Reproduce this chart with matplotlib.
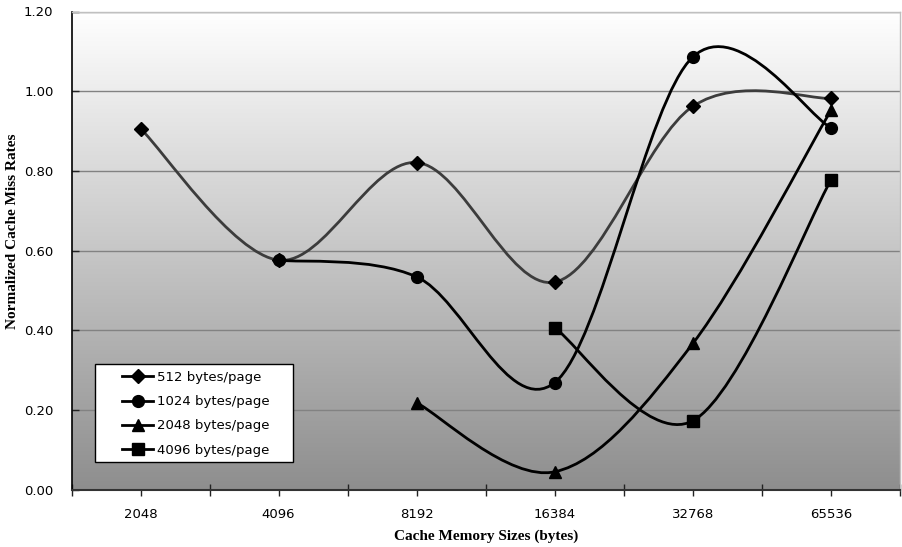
import numpy as np
import matplotlib
matplotlib.use("Agg")
import matplotlib.pyplot as plt
from matplotlib.path import Path
from matplotlib.patches import PathPatch, Rectangle
from matplotlib.lines import Line2D

# Cache sizes (bytes) and normalized miss rates per page size
cache_sizes = ["2048", "4096", "8192", "16384", "32768", "65536"]
rate_512 = [0.906, 0.576, 0.821, 0.521, 0.962, 0.982]
rate_1024 = [np.nan, 0.576, 0.534, 0.269, 1.086, 0.908]
rate_2048 = [np.nan, np.nan, 0.218, 0.045, 0.367, 0.952]
rate_4096 = [np.nan, np.nan, np.nan, 0.406, 0.173, 0.777]
series_labels = ["512 bytes/page", "1024 bytes/page", "2048 bytes/page", "4096 bytes/page"]
y_ticks = [0.0, 0.2, 0.4, 0.6, 0.8, 1.0, 1.2]

series = [rate_512, rate_1024, rate_2048, rate_4096]
markers = ["D", "o", "^", "s"]
msizes = [7, 8.5, 8.5, 8.5]
colors = ["#3c3c3c", "black", "black", "black"]

tick_font = ["DejaVu Sans"]
title_font = ["Liberation Serif"]

W, H = 902, 547


def smooth_path(xs, ys):
    """Cubic Bezier through the points with Catmull-Rom style tangents."""
    pts = np.column_stack([xs, ys])
    n = len(pts)
    verts = [pts[0]]
    codes = [Path.MOVETO]
    for i in range(n - 1):
        p0 = pts[i - 1] if i > 0 else pts[i]
        p1 = pts[i]
        p2 = pts[i + 1]
        p3 = pts[i + 2] if i + 2 < n else pts[i + 1]
        c1 = p1 + (p2 - p0) / 6.0
        c2 = p2 - (p3 - p1) / 6.0
        verts += [c1, c2, p2]
        codes += [Path.CURVE4] * 3
    return Path(verts, codes)


def fig_xy(px, py):
    return px / W, 1 - py / H


fig = plt.figure(figsize=(W / 100, H / 100), dpi=100)
ax_l, ax_r, ax_t, ax_b = 71.5, 900.0, 11.5, 489.7
ax = fig.add_axes([ax_l / W, 1 - ax_b / H, (ax_r - ax_l) / W, (ax_b - ax_t) / H])

x_all = np.arange(len(cache_sizes))
ax.set_xlim(-0.5, len(cache_sizes) - 0.5)
ax.set_ylim(0, 1.2)

# vertical gradient background: white at top to mid gray at bottom
grad = np.linspace(0, 1, 256).reshape(-1, 1)
cmap = matplotlib.colors.LinearSegmentedColormap.from_list("bg", ["#8e8e8e", "#ffffff"])
ax.imshow(grad, aspect="auto", cmap=cmap, origin="lower",
          extent=[-0.5, len(cache_sizes) - 0.5, 0, 1.2], zorder=0)

ax.set_yticks(y_ticks)
ax.set_yticklabels([f"{v:.2f}" for v in y_ticks], family=tick_font, fontsize=9.5)
ax.yaxis.grid(True, color="#828282", linewidth=1.0, zorder=1)
ax.set_axisbelow(True)

ax.set_xticks(x_all)
ax.set_xticklabels(cache_sizes, family=tick_font, fontsize=9.5)
ax.set_xticks(np.arange(-0.5, len(cache_sizes), 1.0), minor=True)
ax.tick_params(axis="x", which="major", direction="out", length=4, width=1, color="#222222", pad=9)
ax.tick_params(axis="x", which="minor", direction="inout", length=9, width=1, color="#222222")
ax.tick_params(axis="y", which="major", direction="in", length=5, width=1, color="#222222", pad=13)

for side in ["top", "right"]:
    ax.spines[side].set_color("#c0c0c0")
    ax.spines[side].set_linewidth(1.0)
ax.spines["left"].set_color("black")
ax.spines["left"].set_linewidth(1.2)
ax.spines["bottom"].set_color("#333333")
ax.spines["bottom"].set_linewidth(1.5)

handles = []
for vals, mk, ms, col, lab in zip(series, markers, msizes, colors, series_labels):
    vals = np.asarray(vals, dtype=float)
    ok = ~np.isnan(vals)
    xs, ys = x_all[ok].astype(float), vals[ok]
    patch = PathPatch(smooth_path(xs, ys), facecolor="none", edgecolor=col,
                      linewidth=2.0, zorder=3, capstyle="round", joinstyle="round")
    ax.add_patch(patch)
    ax.plot(xs, ys, linestyle="none", marker=mk, markersize=ms,
            color="black", zorder=4)
    handles.append(Line2D([], [], color="black", linewidth=2.0, marker=mk,
                          markersize=ms, label=lab))

# axis titles
ax.set_ylabel("Normalized Cache Miss Rates", family=title_font, fontweight="bold",
              fontsize=11, ha="center", va="center")
ax.yaxis.set_label_coords((13 - ax_l) / (ax_r - ax_l), (ax_b - 231) / (ax_b - ax_t))
ax.set_xlabel("Cache Memory Sizes (bytes)", family=title_font, fontweight="bold",
              fontsize=11, ha="center", va="center")
ax.xaxis.set_label_coords(0.5, (ax_b - 536) / (ax_b - ax_t))

# legend: white box with black border, entries placed inside
bx0, by0 = fig_xy(95, 462)
bx1, by1 = fig_xy(293, 364)
fig.patches.append(Rectangle((bx0, by0), bx1 - bx0, by1 - by0, transform=fig.transFigure,
                             facecolor="white", edgecolor="black", linewidth=1.0, zorder=5))
leg = fig.legend(handles=handles, loc="upper left",
                 bbox_to_anchor=fig_xy(122, 371), bbox_transform=fig.transFigure,
                 frameon=False, prop={"family": tick_font, "size": 9.5},
                 handlelength=2.35, handletextpad=0.3, labelspacing=0.85,
                 borderpad=0, borderaxespad=0)
leg.set_zorder(6)

fig.savefig("out.png", dpi=100)
